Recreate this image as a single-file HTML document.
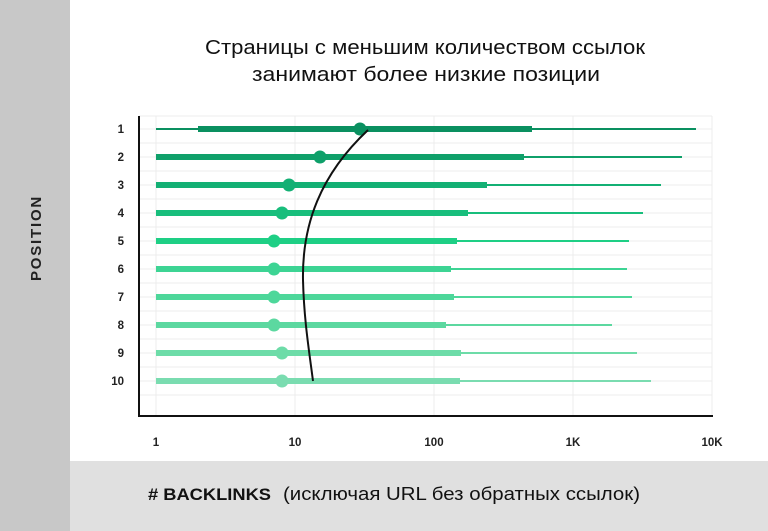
<!DOCTYPE html>
<html><head><meta charset="utf-8"><style>
body{margin:0;width:768px;height:531px;overflow:hidden;background:#fff;font-family:"Liberation Sans","DejaVu Sans",sans-serif}
</style></head><body>
<svg width="768" height="531" xmlns="http://www.w3.org/2000/svg" style="display:block">
<rect x="0" y="0" width="70" height="531" fill="#c8c8c8"/>
<rect x="70" y="461" width="698" height="70" fill="#e0e0e0"/>
<text x="0" y="0" transform="translate(41,238) rotate(-90)" text-anchor="middle" font-size="15" font-weight="bold" letter-spacing="1.8" fill="#222">POSITION</text>
<text x="205" y="54" font-size="20" fill="#111" textLength="440" lengthAdjust="spacingAndGlyphs">Страницы с меньшим количеством ссылок</text>
<text x="252" y="81" font-size="20" fill="#111" textLength="348" lengthAdjust="spacingAndGlyphs">занимают более низкие позиции</text>
<g stroke="#ececec" stroke-width="1">
<line x1="156" y1="116" x2="156" y2="416"/><line x1="295" y1="116" x2="295" y2="416"/><line x1="434" y1="116" x2="434" y2="416"/><line x1="573" y1="116" x2="573" y2="416"/><line x1="712" y1="116" x2="712" y2="416"/>
<line x1="139" y1="116" x2="712" y2="116"/>
<line x1="139" y1="129" x2="712" y2="129"/><line x1="139" y1="143" x2="712" y2="143"/>
<line x1="139" y1="157" x2="712" y2="157"/><line x1="139" y1="171" x2="712" y2="171"/>
<line x1="139" y1="185" x2="712" y2="185"/><line x1="139" y1="199" x2="712" y2="199"/>
<line x1="139" y1="213" x2="712" y2="213"/><line x1="139" y1="227" x2="712" y2="227"/>
<line x1="139" y1="241" x2="712" y2="241"/><line x1="139" y1="255" x2="712" y2="255"/>
<line x1="139" y1="269" x2="712" y2="269"/><line x1="139" y1="283" x2="712" y2="283"/>
<line x1="139" y1="297" x2="712" y2="297"/><line x1="139" y1="311" x2="712" y2="311"/>
<line x1="139" y1="325" x2="712" y2="325"/><line x1="139" y1="339" x2="712" y2="339"/>
<line x1="139" y1="353" x2="712" y2="353"/><line x1="139" y1="367" x2="712" y2="367"/>
<line x1="139" y1="381" x2="712" y2="381"/><line x1="139" y1="395" x2="712" y2="395"/>
</g>
<line x1="139" y1="116" x2="139" y2="417" stroke="#111" stroke-width="2"/>
<line x1="138" y1="416" x2="713" y2="416" stroke="#111" stroke-width="2"/>
<g font-size="11.5" font-weight="bold" fill="#222" text-anchor="end">
<text x="124" y="133">1</text><text x="124" y="161">2</text><text x="124" y="189">3</text><text x="124" y="217">4</text><text x="124" y="245">5</text><text x="124" y="273">6</text><text x="124" y="301">7</text><text x="124" y="329">8</text><text x="124" y="357">9</text><text x="124" y="385">10</text>
</g>
<g font-size="11.5" font-weight="bold" fill="#222" text-anchor="middle">
<text x="156" y="446">1</text><text x="295" y="446">10</text><text x="434" y="446">100</text><text x="573" y="446">1K</text><text x="712" y="446">10K</text>
</g>
<g>
<line x1="156" y1="129" x2="696" y2="129" stroke="#0a9060" stroke-width="2"/><line x1="198" y1="129" x2="532" y2="129" stroke="#0a9060" stroke-width="6"/><circle cx="360" cy="129" r="6.5" fill="#0a9060"/>
<line x1="156" y1="157" x2="682" y2="157" stroke="#0fa06a" stroke-width="2"/><line x1="156" y1="157" x2="524" y2="157" stroke="#0fa06a" stroke-width="6"/><circle cx="320" cy="157" r="6.5" fill="#0fa06a"/>
<line x1="156" y1="185" x2="661" y2="185" stroke="#13b074" stroke-width="2"/><line x1="156" y1="185" x2="487" y2="185" stroke="#13b074" stroke-width="6"/><circle cx="289" cy="185" r="6.5" fill="#13b074"/>
<line x1="156" y1="213" x2="643" y2="213" stroke="#18be7c" stroke-width="2"/><line x1="156" y1="213" x2="468" y2="213" stroke="#18be7c" stroke-width="6"/><circle cx="282" cy="213" r="6.5" fill="#18be7c"/>
<line x1="156" y1="241" x2="629" y2="241" stroke="#1ecf85" stroke-width="2"/><line x1="156" y1="241" x2="457" y2="241" stroke="#1ecf85" stroke-width="6"/><circle cx="274" cy="241" r="6.5" fill="#1ecf85"/>
<line x1="156" y1="269" x2="627" y2="269" stroke="#3dd494" stroke-width="2"/><line x1="156" y1="269" x2="451" y2="269" stroke="#3dd494" stroke-width="6"/><circle cx="274" cy="269" r="6.5" fill="#3dd494"/>
<line x1="156" y1="297" x2="632" y2="297" stroke="#4dd79a" stroke-width="2"/><line x1="156" y1="297" x2="454" y2="297" stroke="#4dd79a" stroke-width="6"/><circle cx="274" cy="297" r="6.5" fill="#4dd79a"/>
<line x1="156" y1="325" x2="612" y2="325" stroke="#5cd8a0" stroke-width="2"/><line x1="156" y1="325" x2="446" y2="325" stroke="#5cd8a0" stroke-width="6"/><circle cx="274" cy="325" r="6.5" fill="#5cd8a0"/>
<line x1="156" y1="353" x2="637" y2="353" stroke="#6ddca8" stroke-width="2"/><line x1="156" y1="353" x2="461" y2="353" stroke="#6ddca8" stroke-width="6"/><circle cx="282" cy="353" r="6.5" fill="#6ddca8"/>
<line x1="156" y1="381" x2="651" y2="381" stroke="#7adcb0" stroke-width="2"/><line x1="156" y1="381" x2="460" y2="381" stroke="#7adcb0" stroke-width="6"/><circle cx="282" cy="381" r="6.5" fill="#7adcb0"/>
</g>
<path d="M368,130 C320,175 302,225 303,280 C304,320 309,350 313,381" fill="none" stroke="#111" stroke-width="2"/>
<text x="148" y="500" font-size="17" font-weight="bold" fill="#111" textLength="123" lengthAdjust="spacingAndGlyphs"># BACKLINKS</text>
<text x="283" y="500" font-size="18" fill="#111" textLength="357" lengthAdjust="spacingAndGlyphs">(исключая URL без обратных ссылок)</text>
</svg>
</body></html>
